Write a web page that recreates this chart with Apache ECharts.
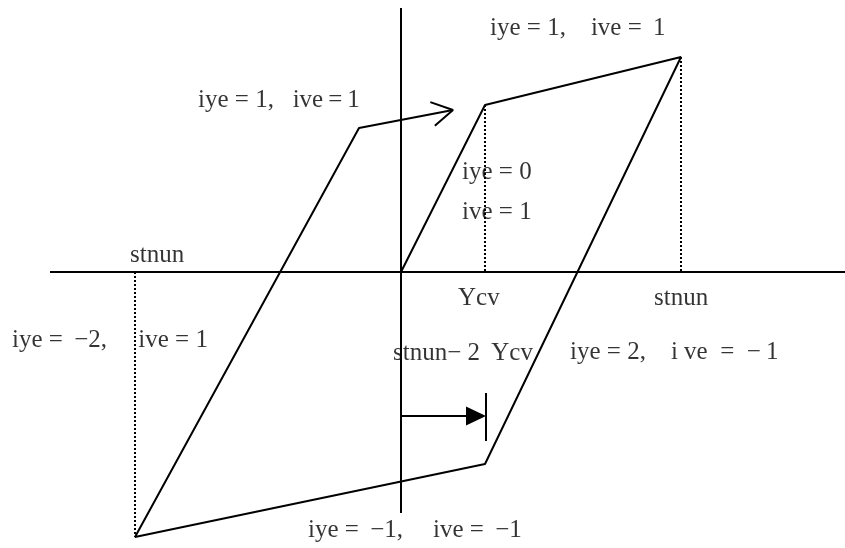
<!DOCTYPE html>
<html>
<head>
<meta charset="utf-8">
<script src="https://cdn.jsdelivr.net/npm/echarts@6/dist/echarts.min.js"></script>
<style>
html, body { margin: 0; padding: 0; background: #fff; }
#chart { width: 845px; height: 548px; }
</style>
</head>
<body>
<div id="chart"></div>
<script>
// key values of the hysteresis loop (1 unit = 1 px, origin at the axes crossing)
var ycv = 84;
var stnun = 280;
var loopX = [0, 84, 280, 84, -266, -42];
var loopY = [0, 167, 215, -192, -265, 144];
var reloadTip = [52, 162];
var dimY = -144;

// axis extents
var axisH = [[-351, 0], [444, 0]];
var axisV = [[0, 264], [0, -241]];

// annotations: text and anchor (left, middle)
var labelTexts = [
    'iye = 1,    ive = \u20091',
    'iye = 1,   ive\u2009=\u20091',
    'iye = 0',
    'ive = 1',
    'stnun',
    'Ycv',
    'stnun',
    'iye = \u2009\u22122,     ive = 1',
    'stnun\u2212 2\u2009 Ycv',
    'iye = 2,    i ve  =  \u2212\u20091',
    'iye = \u2009\u22121,    \u2009ive = \u2009\u22121'
];
var labelAnchors = [
    [89, 244], [-203, 172], [61, 100], [61, 60], [-271, 17], [57, -26],
    [253, -26], [-389, -68], [-8, -81], [169, -80], [-93, -258]
];

$ready();

function $ready() {
    var dom = document.getElementById('chart');
    var myChart = echarts.init(dom);

    var loop = loopX.map(function (x, i) { return [x, loopY[i]]; });
    loop.push(reloadTip);

    // open arrow head on the reloading branch
    var e = loop[loop.length - 2];
    var ang = Math.atan2(reloadTip[1] - e[1], reloadTip[0] - e[0]);
    var wing = 24, spread = 30 * Math.PI / 180;
    var head = [
        [reloadTip[0] + wing * Math.cos(ang + Math.PI - spread), reloadTip[1] + wing * Math.sin(ang + Math.PI - spread)],
        reloadTip,
        [reloadTip[0] + wing * Math.cos(ang + Math.PI + spread), reloadTip[1] + wing * Math.sin(ang + Math.PI + spread)]
    ];

    var solid = { color: '#000', width: 2 };
    var dotted = { color: '#000', width: 2, type: [2, 2] };

    function seg(data, style) {
        return {
            type: 'line', data: data, symbol: 'none', silent: true,
            lineStyle: style, z: 2
        };
    }

    var option = {
        animation: false,
        backgroundColor: '#fff',
        grid: { left: 0, right: 0, top: 0, bottom: 0 },
        xAxis: { type: 'value', min: -401, max: 444, show: false },
        yAxis: { type: 'value', min: -276, max: 272, show: false },
        series: [
            seg(axisH, solid),
            seg(axisV, solid),
            seg(loop, solid),
            seg(head, solid),
            seg([[ycv, loopY[1]], [ycv, 0]], dotted),
            seg([[stnun, loopY[2]], [stnun, 0]], dotted),
            seg([[loopX[4], 0], [loopX[4], loopY[4]]], dotted),
            seg([[0, dimY], [ycv - 19, dimY]], solid),
            seg([[ycv + 1, dimY + 23], [ycv + 1, dimY - 25]], solid),
            {
                type: 'scatter', silent: true,
                symbol: 'triangle', symbolRotate: -90, symbolSize: [19, 20],
                itemStyle: { color: '#000', opacity: 1 },
                data: [[ycv - 9, dimY]]
            },
            {
                type: 'scatter', silent: true, symbolSize: 0,
                data: labelAnchors.map(function (p, i) {
                    return { value: p, name: labelTexts[i] };
                }),
                label: {
                    show: true, position: [0, 0], align: 'left', verticalAlign: 'middle',
                    formatter: '{b}', color: '#000',
                    fontFamily: 'Liberation Serif', fontSize: 25
                }
            }
        ]
    };
    myChart.setOption(option, true);
}
</script>
</body>
</html>
